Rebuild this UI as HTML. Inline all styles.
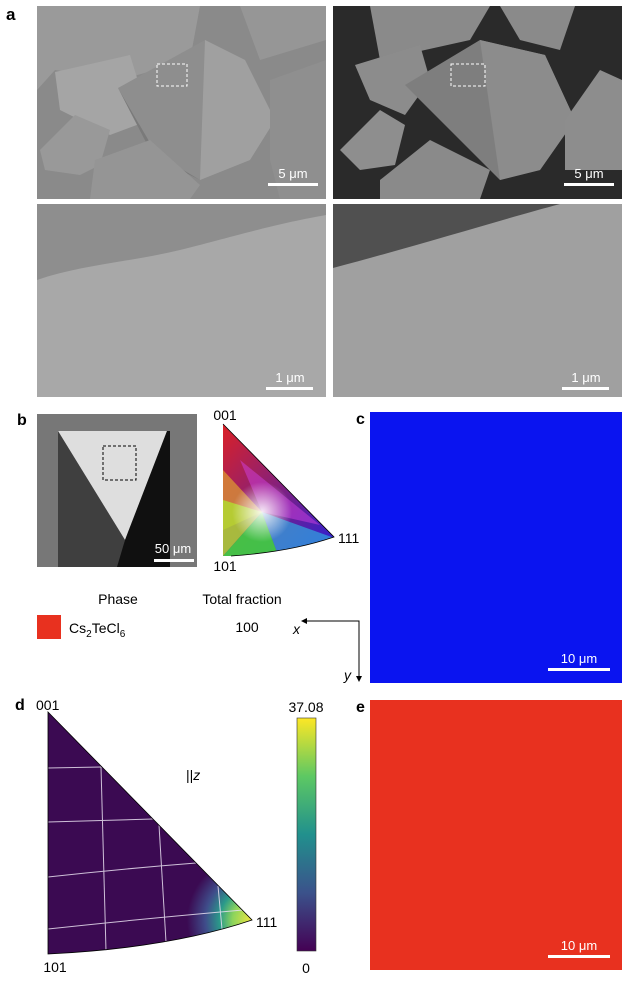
<!DOCTYPE html>
<html><head><meta charset="utf-8"><style>
html,body{margin:0;padding:0;background:#fff;}
svg{display:block;}
text{font-family:"Liberation Sans",Arial,sans-serif;}
</style></head><body>
<svg width="640" height="983" viewBox="0 0 640 983" xmlns="http://www.w3.org/2000/svg">
<defs>
<linearGradient id="ipf" x1="0" y1="0" x2="1" y2="1">
<stop offset="0" stop-color="#e02020"/><stop offset="1" stop-color="#2020e0"/>
</linearGradient>
<radialGradient id="hot" cx="252" cy="920" r="65" gradientUnits="userSpaceOnUse">
<stop offset="0" stop-color="#f0e640"/><stop offset="0.3" stop-color="#8cd45c"/><stop offset="0.5" stop-color="#2a9a8a"/><stop offset="0.72" stop-color="#3f4c8a"/><stop offset="1" stop-color="#3b0a52"/>
</radialGradient>
<radialGradient id="wh" cx="262" cy="512" r="30" gradientUnits="userSpaceOnUse">
<stop offset="0" stop-color="#fff" stop-opacity="0.9"/><stop offset="1" stop-color="#fff" stop-opacity="0"/>
</radialGradient>
<linearGradient id="cb" x1="0" y1="1" x2="0" y2="0">
<stop offset="0" stop-color="#440154"/><stop offset="0.25" stop-color="#3b528b"/><stop offset="0.5" stop-color="#21908d"/><stop offset="0.75" stop-color="#5dc863"/><stop offset="1" stop-color="#fde725"/>
</linearGradient>
<clipPath id="c1"><rect x="37" y="6" width="289" height="193"/></clipPath>
<clipPath id="c2"><rect x="333" y="6" width="289" height="193"/></clipPath>
<clipPath id="ipc"><path d="M223,424 L334,537 Q290,552 231,556 L223,556 Z"/></clipPath>
</defs>

<text x="6" y="20" font-size="17" font-weight="bold">a</text>
<g clip-path="url(#c1)">
<rect x="37" y="6" width="289" height="193" fill="#8a8a8a"/>
<polygon points="37,6 200,6 190,60 120,80 55,70 37,90" fill="#9a9a9a"/>
<polygon points="55,72 130,55 150,120 110,135 60,110" fill="#a5a5a5"/>
<polygon points="118,88 205,40 245,60 275,120 250,160 200,180 160,160" fill="#8e8e8e"/>
<polygon points="205,40 245,60 275,120 250,160 200,180" fill="#a0a0a0"/>
<polygon points="118,88 160,160 200,180 150,150" fill="#7a7a7a"/>
<polygon points="40,150 75,115 110,130 100,165 80,175 45,170" fill="#999"/>
<polygon points="95,160 150,140 200,185 190,199 90,199" fill="#959595"/>
<polygon points="270,80 326,60 326,199 280,199 270,160" fill="#8f8f8f"/>
<polygon points="240,6 326,6 326,40 260,60" fill="#969696"/>
<rect x="157" y="64" width="30" height="22" fill="none" stroke="#fff" stroke-width="1" stroke-dasharray="3,2"/>
</g>
<g clip-path="url(#c2)">
<rect x="333" y="6" width="289" height="193" fill="#2a2a2a"/>
<polygon points="370,6 490,6 470,40 380,60" fill="#8a8a8a"/>
<polygon points="500,6 575,6 560,50 520,40" fill="#8a8a8a"/>
<polygon points="355,65 420,45 430,80 405,115 370,100" fill="#8c8c8c"/>
<polygon points="405,85 480,40 545,55 575,120 540,170 500,180 450,130" fill="#7e7e7e"/>
<polygon points="480,40 545,55 575,120 540,170 500,180" fill="#8c8c8c"/>
<polygon points="340,150 380,110 405,125 395,165 360,170" fill="#8e8e8e"/>
<polygon points="380,180 430,140 490,170 480,199 380,199" fill="#8a8a8a"/>
<polygon points="565,120 600,70 622,80 622,170 565,170" fill="#8d8d8d"/>
<rect x="451" y="64" width="34" height="22" fill="none" stroke="#fff" stroke-width="1" stroke-dasharray="3,2"/>
</g>
<rect x="268" y="183" width="50" height="3" fill="#fff"/>
<text x="293" y="178" font-size="13" fill="#fff" text-anchor="middle">5 μm</text>
<rect x="564" y="183" width="50" height="3" fill="#fff"/>
<text x="589" y="178" font-size="13" fill="#fff" text-anchor="middle">5 μm</text>
<rect x="37" y="204" width="289" height="193" fill="#a8a8a8"/>
<path d="M37,204 L326,204 L326,215 C270,225 240,235 180,250 C130,262 80,265 37,280 Z" fill="#8e8e8e"/>
<rect x="333" y="204" width="289" height="193" fill="#a0a0a0"/>
<path d="M333,204 L560,204 C500,220 420,245 333,268 Z" fill="#505050"/>
<rect x="266" y="387" width="47" height="3" fill="#fff"/>
<text x="290" y="382" font-size="13" fill="#fff" text-anchor="middle">1 μm</text>
<rect x="562" y="387" width="47" height="3" fill="#fff"/>
<text x="586" y="382" font-size="13" fill="#fff" text-anchor="middle">1 μm</text>

<text x="17" y="425" font-size="16" font-weight="bold">b</text>
<rect x="37" y="414" width="160" height="153" fill="#777"/>
<polygon points="58,431 167,431 125,540" fill="#dedede"/>
<polygon points="58,431 125,540 120,567 58,567" fill="#3f3f3f"/>
<polygon points="167,431 125,540 117,567 170,567 170,431" fill="#101010"/>
<rect x="103" y="446" width="33" height="34" fill="none" stroke="#000" stroke-width="1" stroke-dasharray="3,2"/>
<rect x="154" y="559" width="40" height="3" fill="#fff"/>
<text x="173" y="553" font-size="13" fill="#fff" text-anchor="middle">50 μm</text>
<g clip-path="url(#ipc)">
<rect x="220" y="420" width="120" height="140" fill="url(#ipf)"/>
<polygon points="223,470 262,512 223,530" fill="#e0a030" opacity="0.7"/>
<polygon points="223,500 262,512 223,556" fill="#b0e030" opacity="0.8"/>
<polygon points="223,556 262,512 280,560" fill="#40d040" opacity="0.9"/>
<polygon points="262,512 340,540 280,560" fill="#30a8e0" opacity="0.7"/>
<polygon points="262,512 240,460 320,525" fill="#d040e0" opacity="0.5"/>
<circle cx="262" cy="512" r="30" fill="url(#wh)"/>
</g>
<path d="M223,424 L334,537 Q290,552 231,556" fill="none" stroke="#000" stroke-width="0.8"/>
<text x="225" y="420" font-size="14" text-anchor="middle">001</text>
<text x="225" y="571" font-size="14" text-anchor="middle">101</text>
<text x="338" y="543" font-size="14">111</text>

<text x="118" y="604" font-size="14" text-anchor="middle">Phase</text>
<text x="242" y="604" font-size="14" text-anchor="middle">Total fraction</text>
<rect x="37" y="615" width="24" height="24" fill="#e8311f"/>
<text x="69" y="633" font-size="14">Cs<tspan font-size="10" dy="4">2</tspan><tspan dy="-4">TeCl</tspan><tspan font-size="10" dy="4">6</tspan></text>
<text x="247" y="632" font-size="14" text-anchor="middle">100</text>
<text x="293" y="634" font-size="14" font-style="italic">x</text>
<text x="344" y="680" font-size="14" font-style="italic">y</text>
<path d="M303,621 L359,621 L359,679" fill="none" stroke="#000" stroke-width="1"/>
<polygon points="301,621 307,618 307,624"/>
<polygon points="359,682 356,676 362,676"/>

<text x="356" y="424" font-size="16" font-weight="bold">c</text>
<rect x="370" y="412" width="252" height="271" fill="#0a14f0"/>
<rect x="548" y="668" width="62" height="3" fill="#fff"/>
<text x="579" y="663" font-size="13" fill="#fff" text-anchor="middle">10 μm</text>

<text x="15" y="710" font-size="16" font-weight="bold">d</text>
<text x="36" y="710" font-size="14">001</text>
<path d="M48,712 L252,920 Q170,948 48,954 Z" fill="#3b0a52"/>
<path d="M48,712 L252,920 Q170,948 48,954 Z" fill="url(#hot)"/>
<g stroke="#e8e0f0" stroke-width="1" fill="none" opacity="0.85">
<path d="M48,768 L101,767"/>
<path d="M48,822 L153,819"/>
<path d="M48,877 Q120,869 196,863"/>
<path d="M48,929 Q140,919 243,910"/>
<path d="M101,767 L106,951"/>
<path d="M159,825 L166,942"/>
<path d="M218,886 L222,929"/>
</g>
<path d="M48,712 L252,920 Q170,948 48,954 Z" fill="none" stroke="#000" stroke-width="0.8"/>
<text x="55" y="972" font-size="14" text-anchor="middle">101</text>
<text x="256" y="927" font-size="14">111</text>
<text x="186" y="780" font-size="14">||<tspan font-style="italic">z</tspan></text>
<rect x="297" y="718" width="19" height="233" fill="url(#cb)" stroke="#333" stroke-width="0.6"/>
<text x="306" y="712" font-size="14" text-anchor="middle">37.08</text>
<text x="306" y="973" font-size="14" text-anchor="middle">0</text>

<text x="356" y="712" font-size="16" font-weight="bold">e</text>
<rect x="370" y="700" width="252" height="270" fill="#e8311f"/>
<rect x="548" y="955" width="62" height="3" fill="#fff"/>
<text x="579" y="950" font-size="13" fill="#fff" text-anchor="middle">10 μm</text>
</svg>
</body></html>
